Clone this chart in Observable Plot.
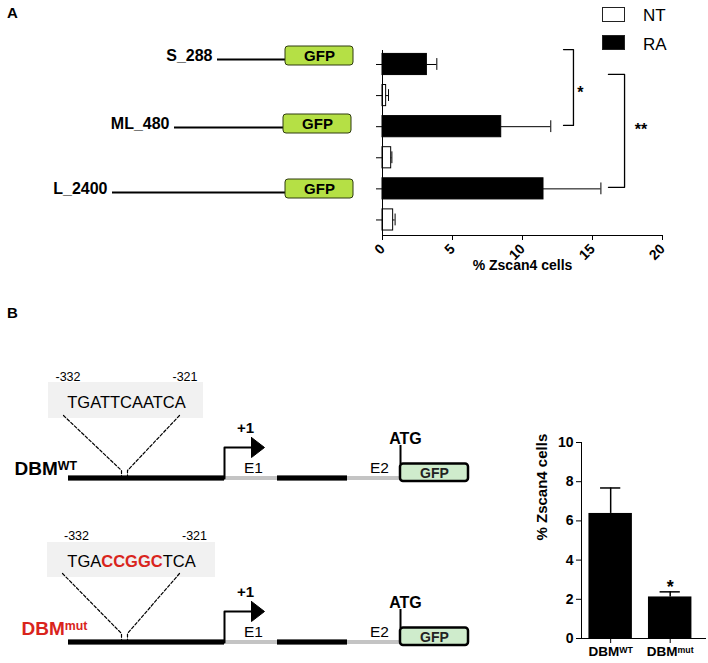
<!DOCTYPE html>
<html><head><meta charset="utf-8">
<script src="https://cdn.jsdelivr.net/npm/d3@7"></script>
<script src="https://cdn.jsdelivr.net/npm/@observablehq/plot@0.6"></script>
<style>
body{margin:0;background:#fff;font-family:"Liberation Sans",Arial,sans-serif;}
#fig{position:relative;width:708px;height:663px;overflow:hidden;background:#fff;}
#fig svg{position:absolute;}
.legbox{position:absolute;width:21px;height:13px;border:1px solid #222;}
.legtxt{position:absolute;font-size:17px;line-height:20px;color:#000;}
</style></head><body><div id="fig"></div>
<script>
// ---------- Panel A data ----------
const constructs = ["S_288", "ML_480", "L_2400"];
const raMean = [3.17, 8.48, 11.5];
const raErr  = [0.71, 3.54, 4.1];
const ntMean = [0.26, 0.62, 0.76];
const ntErr  = [0.17, 0.05, 0.14];
const xTicksA = [0, 5, 10, 15, 20];
const legendLabels = ["NT", "RA"];
const sigLabels = ["*", "**"];

// ---------- Panel B data ----------
const dbmGroups = ["DBM^WT", "DBM^mut"];
const dbmMean = [6.38, 2.12];
const dbmErr  = [1.3, 0.26];
const yTicksB = [0, 2, 4, 6, 8, 10];
const seqWT  = "TGATTCAATCA";
const seqMut = "TGA[CCGGC]TCA";
const seqStart = "-332", seqEnd = "-321";

const FONT = "Liberation Sans, Arial, sans-serif";
const RED = "#d9241c";
const fig = document.getElementById("fig");

function richText(svg){
  svg.querySelectorAll("text").forEach(t => {
    const s = t.textContent;
    if (s.includes("^")) {
      const [a, b] = s.split("^");
      t.innerHTML = `${a}<tspan dy="-0.4em" font-size="0.65em">${b}</tspan>`;
    } else if (s.includes("[")) {
      t.innerHTML = s.replace(/\[(.*?)\]/, `<tspan fill="${RED}" font-weight="bold">$1</tspan>`);
    }
  });
}
function tickFont(svg, axis, size){
  svg.querySelectorAll(`g[aria-label="${axis}-axis tick label"]`).forEach(g => {
    g.setAttribute("font-size", size); g.setAttribute("font-weight", "bold");
    g.querySelectorAll("text").forEach(t => { t.style.fontSize = size + "px"; t.style.fontWeight = "bold"; });
  });
}
function place(svg, left, top){
  svg.style.position = "absolute"; svg.style.left = left + "px"; svg.style.top = top + "px";
  richText(svg); fig.appendChild(svg);
}

// ---------- Schematic layout (diagram canvas) ----------
const panelLetters = [{t:"A", x:12, y:13}, {t:"B", x:12, y:313}];
const lineStartA = [217, 174, 112];
const lineYA = [59, 127, 192];
const gfpStartA = [285, 283, 285];
const gfpW = 68;
const constructRows = constructs.map((c, i) => ({name:c, x0:lineStartA[i], y:lineYA[i], g:gfpStartA[i]}));

const rowsB = [
  {name:"DBM^WT", color:"black", base:478, nameX:14, nameY:-9.5, seq:seqWT, boxX:[48,203], boxY:[-96,-60], seqX:126, seqY:-75.5, numY:-101.5, numX:[67.5,184.5], dashTop:-63, dashTurn:-8},
  {name:"DBM^mut", color:RED, base:642, nameX:21, nameY:-13.5, seq:seqMut, boxX:[47,215], boxY:[-100,-65], seqX:131, seqY:-81, numY:-106.5, numX:[76,194], dashTop:-69, dashTurn:-9}
];
const geneSegs = [
  {x1:68, x2:224, fill:"black", h:2.6},
  {x1:224, x2:277, fill:"#c4c4c4", h:2},
  {x1:277, x2:347, fill:"black", h:2.6},
  {x1:347, x2:400, fill:"#c4c4c4", h:2}
];
const exons = [{t:"E1", x:253}, {t:"E2", x:379}];
const tssX = 224, atgX = 400;

const segData = rowsB.flatMap(r => geneSegs.map(s => ({...s, base:r.base})));
const dashPts = rowsB.flatMap((r, i) => [
  {id:i+"L", x:r.boxX[0]+15, y:r.base+r.dashTop}, {id:i+"L", x:121, y:r.base+r.dashTurn}, {id:i+"L", x:121, y:r.base-2},
  {id:i+"R", x:179, y:r.base+r.dashTop}, {id:i+"R", x:127, y:r.base+r.dashTurn}, {id:i+"R", x:127, y:r.base-2}
]);
const tssPts = rowsB.flatMap((r, i) => [
  {id:i, x:tssX, y:r.base}, {id:i, x:tssX, y:r.base-31}, {id:i, x:252, y:r.base-31}
]);
const headPts = rowsB.flatMap((r, i) => [
  {id:i, x:251, y:r.base-41}, {id:i, x:264, y:r.base-31}, {id:i, x:251, y:r.base-21}, {id:i, x:251, y:r.base-41}
]);
const smallTexts = rowsB.flatMap(r => [
  {t:seqStart, x:r.numX[0], y:r.base+r.numY}, {t:seqEnd, x:r.numX[1], y:r.base+r.numY}
]);
const exonTexts = rowsB.flatMap(r => exons.map(e => ({t:e.t, x:e.x, y:r.base-10.5})));
const boldTexts = rowsB.flatMap(r => [
  {t:"+1", x:245, y:r.base-50, s:15},
  {t:"ATG", x:405, y:r.base-39.5, s:16}
]);

const diag = Plot.plot({
  width:708, height:663, margin:0,
  x:{domain:[0,708], range:[0,708], axis:null},
  y:{domain:[0,663], range:[0,663], axis:null},
  style:{background:"transparent", fontFamily:FONT},
  marks:[
    Plot.text(panelLetters, {x:"x", y:"y", text:"t", fontSize:15, fontWeight:"bold"}),
    // Panel A constructs
    Plot.ruleY(constructRows, {x1:"x0", x2:"g", y:"y", stroke:"black", strokeWidth:2}),
    Plot.rect(constructRows, {x1:"g", x2:d=>d.g+gfpW, y1:d=>d.y-13, y2:d=>d.y+6, rx:3, fill:"#b5e045", stroke:"#2f3b10", strokeWidth:1}),
    Plot.text(constructRows, {x:d=>d.g+gfpW/2, y:d=>d.y-3.5, text:()=>"GFP", fontSize:15, fontWeight:"bold", fill:"black"}),
    Plot.text(constructRows, {x:d=>d.x0-5, y:d=>d.y-4, text:"name", textAnchor:"end", fontSize:16, fontWeight:"bold"}),
    // Panel B schematics
    Plot.rect(rowsB, {x1:d=>d.boxX[0], x2:d=>d.boxX[1], y1:d=>d.base+d.boxY[0], y2:d=>d.base+d.boxY[1], fill:"#f1f1f1"}),
    Plot.line(dashPts, {x:"x", y:"y", z:"id", stroke:"black", strokeWidth:1.2, strokeDasharray:"3,2"}),
    Plot.rect(segData, {x1:"x1", x2:"x2", y1:d=>d.base-d.h, y2:d=>d.base+d.h, fill:"fill"}),
    Plot.line(tssPts, {x:"x", y:"y", z:"id", stroke:"black", strokeWidth:2}),
    Plot.line(headPts, {x:"x", y:"y", z:"id", stroke:"black", fill:"black", strokeWidth:1}),
    Plot.ruleX(rowsB, {x:atgX, y1:d=>d.base-14, y2:d=>d.base-33, stroke:"black", strokeWidth:2}),
    Plot.rect(rowsB, {x1:atgX, x2:atgX+68, y1:d=>d.base-14.5, y2:d=>d.base+3, rx:3, fill:"#cfeccc", stroke:"black", strokeWidth:2.5}),
    Plot.text(rowsB, {x:atgX+34, y:d=>d.base-4.5, text:()=>"GFP", fontSize:14, fontWeight:"bold", fill:"#222"}),
    Plot.text(rowsB, {x:"seqX", y:d=>d.base+d.seqY, text:"seq", fontSize:16.5}),
    Plot.text(smallTexts, {x:"x", y:"y", text:"t", fontSize:12.5}),
    Plot.text(exonTexts, {x:"x", y:"y", text:"t", fontSize:15.5}),
    Plot.text(boldTexts, {x:"x", y:"y", text:"t", fontSize:"s", fontWeight:"bold"}),
    Plot.text(rowsB, {x:"nameX", y:d=>d.base+d.nameY, text:"name", fill:"color", textAnchor:"start", fontSize:19, fontWeight:"bold"})
  ]
});
place(diag, 0, 0);

// ---------- Panel A bar chart ----------
const rowsA = constructs.flatMap((c, i) => [
  {construct:c, treat:"RA", row:2*i,   mean:raMean[i], err:raErr[i]},
  {construct:c, treat:"NT", row:2*i+1, mean:ntMean[i], err:ntErr[i]}
]);
const halfBar = 0.34, capHalf = 0.19;
const brackets = [
  {id:0, top:-0.48, bottom:1.96, x0:12.93, x1:13.64, label:sigLabels[0], lx:14.14, ly:0.9},
  {id:1, top:0.32,  bottom:3.95, x0:16.14, x1:17.29, label:sigLabels[1], lx:18.46, ly:2.09}
];
const bracketPts = brackets.flatMap(b => [
  {id:b.id, x:b.x0, y:b.top}, {id:b.id, x:b.x1, y:b.top}, {id:b.id, x:b.x1, y:b.bottom}, {id:b.id, x:b.x0, y:b.bottom}
]);
const yDomA = [-0.45, 5.5];
const plotA = Plot.plot({
  width:386, height:290, marginLeft:60, marginRight:46, marginTop:50, marginBottom:55,
  style:{background:"transparent", fontFamily:FONT, fontSize:"14px", overflow:"visible"},
  x:{domain:[0,20]}, y:{domain:yDomA, reverse:true},
  marks:[
    Plot.rect(rowsA, {x1:0, x2:"mean", y1:d=>d.row-halfBar, y2:d=>d.row+halfBar,
      fill:d=>d.treat==="RA"?"black":"white", stroke:"black", strokeWidth:1}),
    Plot.ruleY(rowsA, {y:"row", x1:"mean", x2:d=>d.mean+d.err, stroke:"black", strokeWidth:1}),
    Plot.ruleX(rowsA, {x:d=>d.mean+d.err, y1:d=>d.row-capHalf, y2:d=>d.row+capHalf, stroke:"black", strokeWidth:1}),
    Plot.ruleX([0], {stroke:"black", strokeWidth:1}),
    Plot.ruleY([yDomA[1]], {stroke:"black", strokeWidth:1}),
    Plot.axisY({ticks:[0,1,2,3,4,5], tickFormat:()=>"", tickSize:6, label:null}),
    Plot.axisX({ticks:xTicksA, tickSize:5, tickRotate:-45, tickPadding:6, fontSize:14, fontWeight:"bold", label:null}),
    Plot.text(["% Zscan4 cells"], {frameAnchor:"bottom", text:d=>d, dy:34, fontSize:14, fontWeight:"bold"}),
    Plot.line(bracketPts, {x:"x", y:"y", z:"id", stroke:"black", strokeWidth:1.3}),
    Plot.text(brackets, {x:"lx", y:"ly", text:"label", fontSize:16, fontWeight:"bold"})
  ]
});
tickFont(plotA, "x", 14);
place(plotA, 322, 0);

// legend (HTML)
const legTop = [7, 35], legTxtTop = [6, 35];
legendLabels.forEach((l, i) => {
  const b = document.createElement("div");
  b.className = "legbox"; b.style.left = "602px"; b.style.top = legTop[i] + "px";
  b.style.background = l === "RA" ? "black" : "white";
  fig.appendChild(b);
  const t = document.createElement("div");
  t.className = "legtxt"; t.style.left = "643px"; t.style.top = legTxtTop[i] + "px"; t.textContent = l;
  fig.appendChild(t);
});

// ---------- Panel B bar chart ----------
const dbmRows = dbmGroups.map((g, i) => ({group:g, i, mean:dbmMean[i], err:dbmErr[i]}));
const xDomB = [-0.49, 1.61];
const plotB = Plot.plot({
  width:178, height:243, marginLeft:51, marginRight:2, marginTop:22, marginBottom:25,
  style:{background:"transparent", fontFamily:FONT, fontSize:"14px", overflow:"visible"},
  x:{domain:xDomB}, y:{domain:[0,10]},
  marks:[
    Plot.rect(dbmRows, {x1:d=>d.i-0.365, x2:d=>d.i+0.365, y1:0, y2:"mean", fill:"black"}),
    Plot.ruleX(dbmRows, {x:"i", y1:"mean", y2:d=>d.mean+d.err, stroke:"black", strokeWidth:1.5}),
    Plot.ruleY(dbmRows, {y:d=>d.mean+d.err, x1:d=>d.i-0.17, x2:d=>d.i+0.17, stroke:"black", strokeWidth:1.5}),
    Plot.ruleX([xDomB[0]], {stroke:"black", strokeWidth:1}),
    Plot.ruleY([0], {stroke:"black", strokeWidth:1.2}),
    Plot.axisY({ticks:yTicksB, tickSize:5, tickPadding:3, fontSize:14, fontWeight:"bold", label:null}),
    Plot.axisX({ticks:[0,1], tickFormat:i=>dbmGroups[i], tickSize:5, tickPadding:3, fontSize:13.5, fontWeight:"bold", label:null}),
    Plot.text(["% Zscan4 cells"], {frameAnchor:"left", text:d=>d, rotate:-90, dx:-39, fontSize:15, fontWeight:"bold"}),
    Plot.text(dbmRows.filter(d => d.i === 1), {x:"i", y:d=>d.mean+d.err, text:()=>"*", dy:-5, fontSize:18, fontWeight:"bold"})
  ]
});
tickFont(plotB, "y", 14);
tickFont(plotB, "x", 13.5);
place(plotB, 530, 420);
</script></body></html>
